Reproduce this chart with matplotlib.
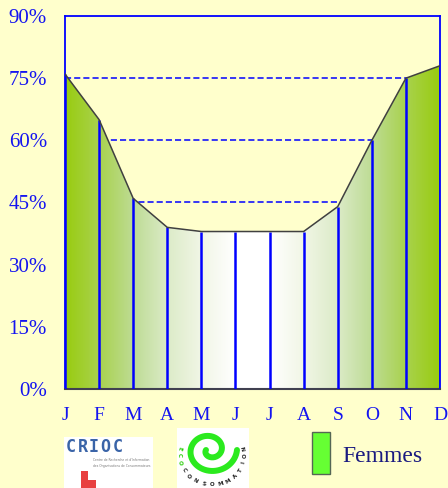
import matplotlib.pyplot as plt
import numpy as np
from matplotlib.colors import LinearSegmentedColormap
from matplotlib.patches import Polygon, Rectangle

# donnees (pourcentage par mois)
months = ['J', 'F', 'M', 'A', 'M', 'J', 'J', 'A', 'S', 'O', 'N', 'D']
femmes = [76, 65, 46, 39, 38, 38, 38, 38, 44, 60, 75, 78]
yticks = [0, 15, 30, 45, 60, 75, 90]
grid_levels = [15, 30, 45, 60, 75]

BG = '#FFFFCC'
BLUE = '#0000FF'
TXT = '#1414F0'
W, H = 448, 488

fig = plt.figure(figsize=(W / 100, H / 100), dpi=100, facecolor=BG)
ax = fig.add_axes([65 / W, 1 - 389 / H, 375 / W, 373 / H])
ax.set_facecolor(BG)

x = np.arange(len(months))
ax.set_xlim(0, len(months) - 1)
ax.set_ylim(0, 90)

# lignes pointillees (derriere la surface)
ax.hlines(grid_levels, 0, len(months) - 1, colors=BLUE, linestyles=(0, (4, 2)),
          linewidth=1.1, zorder=1)

# degrade vert -> blanc -> vert
stops = ['#99CC11', '#A9D24F', '#BEDC95', '#DCEBC8', '#F1F6E6', '#FFFFFF',
         '#FFFFFF', '#F1F6E6', '#DCEBC8', '#BEDC95', '#A9D24F', '#99CC11']
cmap = LinearSegmentedColormap.from_list('femmes', list(zip(x / x[-1], stops)))
grad = np.linspace(0, 1, 600).reshape(1, -1)
im = ax.imshow(grad, extent=[0, x[-1], 0, 90], aspect='auto', cmap=cmap,
               origin='lower', zorder=2, interpolation='bilinear')
verts = list(zip(x, femmes)) + [(x[-1], 0), (0, 0)]
area = Polygon(verts, closed=True, facecolor='none', edgecolor='none')
ax.add_patch(area)
im.set_clip_path(area)

ax.plot(x, femmes, color='#404040', linewidth=1.1, zorder=4)
ax.vlines(x, 0, femmes, colors=BLUE, linewidth=1.8, zorder=3)

for side in ['left', 'top', 'right']:
    ax.spines[side].set_color(BLUE)
    ax.spines[side].set_linewidth(1.3)
ax.spines['bottom'].set_color('#404050')
ax.spines['bottom'].set_linewidth(1.5)

ax.set_yticks(yticks)
ax.set_yticklabels([f'{v}%' for v in yticks])
ax.set_xticks(x)
ax.set_xticklabels(months)
ax.tick_params(length=0, colors=TXT, labelsize=15)
ax.tick_params(axis='y', pad=13)
ax.tick_params(axis='x', pad=13, labelsize=14)
for lab in ax.get_xticklabels() + ax.get_yticklabels():
    lab.set_fontfamily('Liberation Serif')

# logo CRIOC (approximation)
lg = fig.add_axes([64 / W, 0, 89 / W, 51 / H])
lg.set_xlim(64, 153)
lg.set_ylim(488, 437)
lg.axis('off')
lg.add_patch(Rectangle((64, 437), 89, 51, facecolor='white', edgecolor='none'))
for cx, ch in zip([71, 83, 94, 105, 118], 'CRIOC'):
    lg.text(cx, 447.5, ch, color='#3A64A8', fontsize=12, fontweight='bold',
            fontfamily='DejaVu Sans Mono', va='center', ha='center')
lg.text(93, 460, "Centre de Recherche et d'Information", color='#777777',
        fontsize=2.2, va='center', ha='left')
lg.text(93, 465.5, 'des Organisations de Consommateurs', color='#777777',
        fontsize=2.2, va='center', ha='left')
lg.add_patch(Rectangle((81, 471), 7, 17, facecolor='#E84040', edgecolor='none'))
lg.add_patch(Rectangle((81, 480), 15, 8, facecolor='#E84040', edgecolor='none'))

# logo eco-consommation (approximation)
le = fig.add_axes([177 / W, 0, 72 / W, 60 / H])
le.set_xlim(177, 249)
le.set_ylim(488, 428)
le.axis('off')
le.add_patch(Rectangle((177, 428), 72, 60, facecolor='white', edgecolor='none'))
phi = np.linspace(0, 3.0 * np.pi, 300)
rad = 27 - 23 * phi / phi[-1]
le.plot(210 + rad * np.cos(phi), 450 + 0.9 * rad * np.sin(phi),
        color='#2BEA1E', linewidth=4.3, solid_capstyle='round')
word = 'ECOCONSOMMATION'
angles = np.linspace(194, -14, len(word))
for i, (ch, a) in enumerate(zip(word, angles)):
    ar = np.deg2rad(a)
    le.text(212 + 33 * np.cos(ar), 455 + 30 * np.sin(ar), ch, fontsize=4,
            ha='center', va='center', fontweight='bold',
            color='#22CC00' if i < 3 else '#222222', rotation=90 - a)

# legende
fig.patches.append(Rectangle((312 / W, 1 - 474 / H), 18 / W, 42 / H,
                             transform=fig.transFigure, facecolor='#66FF33',
                             edgecolor='#556655', linewidth=1.0))
fig.text(342 / W, 1 - 456 / H, 'Femmes', color='#1A1A80', fontsize=17,
         fontfamily='Liberation Serif', va='center', ha='left')

fig.savefig('out.png', dpi=100, facecolor=BG)
